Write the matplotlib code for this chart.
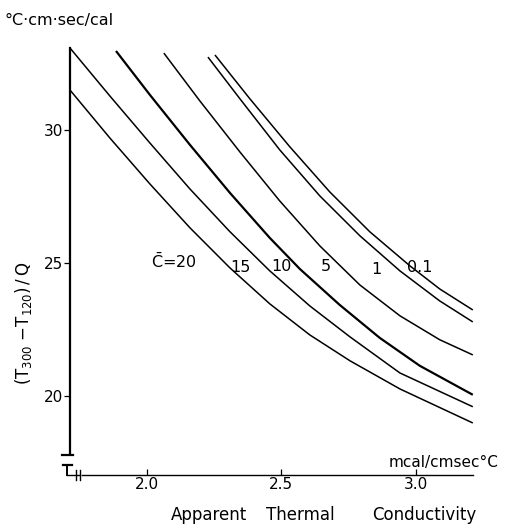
import numpy as np
import matplotlib
matplotlib.use("Agg")
import matplotlib.pyplot as plt
from matplotlib.lines import Line2D

plt.rcParams['font.family'] = ['DejaVu Sans']

# curve values (x: conductivity, y: (T300-T120)/Q)
c_labels = ['20', '15', '10', '5', '1', '0.1']

x_c20 = [1.714, 1.862, 2.011, 2.160, 2.309, 2.457, 2.606, 2.755, 2.941, 3.212]
y_c20 = [31.50, 29.70, 27.97, 26.32, 24.81, 23.46, 22.29, 21.32, 20.26, 18.98]

x_c15 = [1.714, 1.862, 2.011, 2.160, 2.309, 2.457, 2.606, 2.755, 2.941, 3.212]
y_c15 = [33.08, 31.28, 29.51, 27.78, 26.17, 24.70, 23.38, 22.22, 20.86, 19.59]

x_c10 = [1.885, 2.011, 2.160, 2.309, 2.457, 2.569, 2.717, 2.866, 3.015, 3.212]
y_c10 = [32.97, 31.32, 29.44, 27.63, 25.94, 24.77, 23.42, 22.18, 21.13, 20.04]

x_c5 = [2.063, 2.197, 2.346, 2.494, 2.643, 2.792, 2.941, 3.089, 3.212]
y_c5 = [32.89, 31.09, 29.17, 27.33, 25.64, 24.17, 23.01, 22.11, 21.54]

x_c1 = [2.227, 2.346, 2.494, 2.643, 2.792, 2.941, 3.089, 3.212]
y_c1 = [32.74, 31.17, 29.25, 27.52, 26.02, 24.70, 23.57, 22.78]

x_c01 = [2.253, 2.383, 2.532, 2.680, 2.829, 2.978, 3.089, 3.212]
y_c01 = [32.82, 31.17, 29.36, 27.67, 26.17, 24.89, 24.02, 23.23]

x_ticks = [2.0, 2.5, 3.0]
y_ticks = [20, 25, 30]

fig = plt.figure(figsize=(5.10, 5.28), dpi=100)
ax = fig.add_axes([0.1373, 0.142, 0.8098, 0.768])

curves = [(x_c20, y_c20), (x_c15, y_c15), (x_c10, y_c10),
          (x_c5, y_c5), (x_c1, y_c1), (x_c01, y_c01)]
widths = [1.1, 1.1, 1.6, 1.1, 1.1, 1.1]
for (xs, ys), lw in zip(curves, widths):
    ax.plot(xs, ys, color='black', lw=lw, solid_capstyle='butt', solid_joinstyle='round')

ax.set_xlim(1.714, 3.25)
ax.set_ylim(17.85, 33.1)

for s in ['top', 'right']:
    ax.spines[s].set_visible(False)
ax.spines['left'].set_linewidth(1.6)
ax.spines['left'].set_bounds(17.85, 33.08)
ax.spines['bottom'].set_position(('outward', 16))
ax.spines['bottom'].set_bounds(1.758, 3.212)
ax.spines['bottom'].set_linewidth(1.0)

ax.set_xticks(x_ticks)
ax.set_xticklabels(['2.0', '2.5', '3.0'])
ax.set_yticks(y_ticks)
ax.tick_params(axis='x', direction='in', length=4, width=0.9, labelsize=11, pad=1)
ax.tick_params(axis='y', direction='out', length=4, width=0.9, labelsize=11, pad=1)

# curve labels
lab_pos = [(2.100, 25.04), (2.346, 24.81), (2.502, 24.85), (2.666, 24.85), (2.855, 24.77), (3.015, 24.81)]
for i, (lab, (px, py)) in enumerate(zip(c_labels, lab_pos)):
    txt = r'$\bar{\mathrm{C}}$=' + lab if i == 0 else lab
    ax.text(px, py, txt, fontsize=11.5, ha='center', va='center')

# units and axis titles
fig.text(4 / 510, 1 - 20 / 528, '°C·cm·sec/cal', fontsize=11.5, ha='left', va='center')
fig.text(444 / 510, 1 - 463 / 528, 'mcal/cmsec°C', fontsize=11, ha='center', va='center')
fig.text(209 / 510, 1 - 515 / 528, 'Apparent', fontsize=12, ha='center', va='center')
fig.text(300 / 510, 1 - 515 / 528, 'Thermal', fontsize=12, ha='center', va='center')
fig.text(424 / 510, 1 - 515 / 528, 'Conductivity', fontsize=12, ha='center', va='center')
fig.text(24 / 510, 1 - 323 / 528, r'(T$_{300}$ $-$T$_{120}$)$\,/\,$Q', fontsize=12,
         rotation=90, ha='center', va='center')

# axis break marks in the lower left corner
def fline(xs, ys, lw=1.2):
    fig.add_artist(Line2D([v / 510 for v in xs], [1 - v / 528 for v in ys],
                          color='black', lw=lw, transform=fig.transFigure))

fline([62, 73], [455, 455], lw=1.6)
fline([63, 72], [465, 465], lw=1.6)
fline([67, 67], [465, 475], lw=1.4)
fline([67, 80], [475, 475], lw=1.0)
fline([76, 76], [470, 480], lw=1.0)
fline([80, 80], [470, 480], lw=1.0)

fig.savefig('out.png', dpi=100)
